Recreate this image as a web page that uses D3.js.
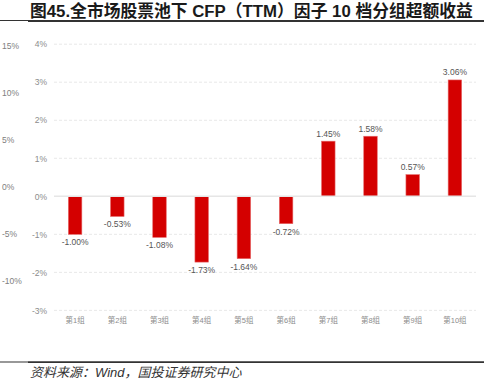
<!DOCTYPE html>
<html>
<head>
<meta charset="utf-8">
<script src="https://cdn.jsdelivr.net/npm/d3@7/dist/d3.min.js"></script>
<style>
  html, body { margin: 0; padding: 0; background: #fff; }
  svg { display: block; }
</style>
</head>
<body>
<svg id="chart" width="492" height="390"></svg>
<script>
const categories = ["第1组","第2组","第3组","第4组","第5组","第6组","第7组","第8组","第9组","第10组"];
const values = [-1.00, -0.53, -1.08, -1.73, -1.64, -0.72, 1.45, 1.58, 0.57, 3.06];
const yTicks = [4, 3, 2, 1, 0, -1, -2, -3];
const leftTicks = [15, 10, 5, 0, -5, -10];
const titleText = "图45.全市场股票池下 CFP（TTM）因子 10 档分组超额收益";
const sourceText = "资料来源：Wind，国投证券研究中心";

const svg = d3.select("#chart");
const W = 492, H = 390;
const plot = { left: 54, right: 476, top: 44.2, bottom: 310.4 };

const x = d3.scaleBand().domain(categories)
  .range([plot.left, plot.right]).paddingInner(0.68).paddingOuter(0.34);
const y = d3.scaleLinear().domain([-3, 4]).range([plot.bottom, plot.top]);
const yLeft = d3.scaleLinear().domain([-10, 15]).range([281, 46]);

const latin = "'Liberation Sans', Arial, 'Noto Sans CJK SC', sans-serif";

// Title
svg.append("text")
  .attr("x", 30).attr("y", 16.5)
  .attr("font-family", latin)
  .attr("font-size", 16.8).attr("font-weight", "bold")
  .attr("fill", "#1a1a1a")
  .text(titleText);

// header rule
svg.append("line").attr("x1", 0).attr("x2", 484).attr("y1", 20.5).attr("y2", 20.5)
  .attr("stroke", "#333").attr("stroke-width", 1.2);
svg.append("line").attr("x1", 28).attr("x2", 484).attr("y1", 21).attr("y2", 21)
  .attr("stroke", "#333").attr("stroke-width", 1.8);

// gridlines
svg.append("g").selectAll("line")
  .data(yTicks.filter(d => d !== 0))
  .join("line")
  .attr("x1", plot.left).attr("x2", plot.right)
  .attr("y1", d => y(d)).attr("y2", d => y(d))
  .attr("stroke", "#e2e2e2").attr("stroke-width", 0.8)
  .attr("stroke-dasharray", "3,2");

// inner y-axis labels
const yAxis = d3.axisLeft(y).tickValues(yTicks).tickSize(0).tickPadding(0)
  .tickFormat(d => d + "%");
const gY = svg.append("g").attr("transform", `translate(${plot.left - 7},0)`).call(yAxis);
gY.select(".domain").remove();
gY.selectAll("text").attr("font-family", latin).attr("font-size", 8.5).attr("fill", "#8c8c8c");

// outer left labels
const yAxisL = d3.axisRight(yLeft).tickValues(leftTicks).tickSize(0).tickPadding(0)
  .tickFormat(d => d + "%");
const gL = svg.append("g").attr("transform", "translate(2,0)").call(yAxisL);
gL.select(".domain").remove();
gL.selectAll("text").attr("font-family", latin).attr("font-size", 8.5).attr("fill", "#808080");

// bars
svg.append("g").selectAll("rect")
  .data(values)
  .join("rect")
  .attr("x", (d, i) => x(categories[i]))
  .attr("width", x.bandwidth())
  .attr("y", d => y(Math.max(0, d)))
  .attr("height", d => Math.abs(y(d) - y(0)))
  .attr("fill", "#d40000")
  .attr("stroke", "#e66a6a").attr("stroke-width", 0.6);

// zero line
svg.append("line")
  .attr("x1", plot.left).attr("x2", plot.right)
  .attr("y1", y(0)).attr("y2", y(0))
  .attr("stroke", "#e6e6e6").attr("stroke-width", 1.4);

// value labels
svg.append("g").selectAll("text")
  .data(values)
  .join("text")
  .attr("x", (d, i) => x(categories[i]) + x.bandwidth() / 2)
  .attr("y", d => d >= 0 ? y(d) - 4.5 : y(d) + 11)
  .attr("text-anchor", "middle")
  .attr("font-family", latin).attr("font-size", 8.5).attr("fill", "#555")
  .text(d => d.toFixed(2) + "%");

// x-axis labels
const xAxis = d3.axisBottom(x).tickSize(0).tickPadding(0);
const gX = svg.append("g").attr("transform", `translate(0,${plot.bottom + 13})`).call(xAxis);
gX.select(".domain").remove();
gX.selectAll("text").attr("font-family", latin).attr("font-size", 7.5).attr("fill", "#8c8c8c")
  .attr("dy", 0);

// footer rule
svg.append("line").attr("x1", 0).attr("x2", 484).attr("y1", 362).attr("y2", 362)
  .attr("stroke", "#333").attr("stroke-width", 1.2);
svg.append("line").attr("x1", 28).attr("x2", 484).attr("y1", 362.3).attr("y2", 362.3)
  .attr("stroke", "#333").attr("stroke-width", 1.6);

// source
svg.append("text")
  .attr("x", 30).attr("y", 377)
  .attr("font-family", latin)
  .attr("font-size", 13).attr("font-style", "italic")
  .attr("fill", "#333")
  .text(sourceText);
</script>
</body>
</html>
